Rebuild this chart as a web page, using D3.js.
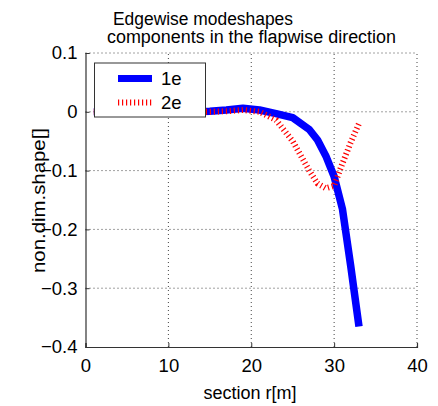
<!DOCTYPE html>
<html><head><meta charset="utf-8">
<script src="https://cdn.jsdelivr.net/npm/d3@7"></script>
<style>body{margin:0;background:#fff}svg{display:block}text{font-family:Arial,"Liberation Sans",sans-serif}</style>
</head><body>
<script>
const sections = [1,3,5,7,9,11,13,15,17,19,21,23,25,27,28,29,30,31,32,33];
const mode1e = [0,0,0,0,0,0,0,0.001,0.003,0.006,0.003,-0.003,-0.01,-0.03,-0.048,-0.075,-0.11,-0.165,-0.262,-0.365];
const mode2e = [0,0,0,0,0,0,0,0,0.001,0.003,0.0,-0.014,-0.05,-0.1,-0.122,-0.13,-0.126,-0.088,-0.052,-0.02];
const xTicks = [0,10,20,30,40];
const yTicks = [0.1,0,-0.1,-0.2,-0.3,-0.4];
const seriesNames = ["1e","2e"];

const W=438,H=406;
const FONT="Arial,'Liberation Sans',sans-serif";
const svg=d3.select("body").append("svg").attr("width",W).attr("height",H);
const x=d3.scaleLinear().domain([0,40]).range([85.5,417]);
const y=d3.scaleLinear().domain([-0.4,0.1]).range([347,53]);

// grid
const g=svg.append("g");
g.selectAll(".gx").data(xTicks.slice(1)).join("line")
 .attr("x1",d=>x(d)).attr("x2",d=>x(d)).attr("y1",y(-0.4)).attr("y2",y(0.1))
 .attr("stroke","#444").attr("stroke-width",1).attr("stroke-dasharray","1,3");
g.selectAll(".gy").data(yTicks.slice(0,-1)).join("line")
 .attr("x1",x(0)).attr("x2",x(40)).attr("y1",d=>y(d)).attr("y2",d=>y(d))
 .attr("stroke","#444").attr("stroke-width",1).attr("stroke-dasharray","1,3");

// axes
const xa=svg.append("g").attr("transform",`translate(0,${y(-0.4)})`)
 .call(d3.axisBottom(x).tickValues(xTicks).tickSize(-4).tickFormat(d3.format("d")));
const ya=svg.append("g").attr("transform",`translate(${x(0)},0)`)
 .call(d3.axisLeft(y).tickValues(yTicks).tickSize(-4).tickPadding(8).tickFormat(d=>d===0?"0":d3.format(".1f")(d)));
[xa,ya].forEach(a=>{a.select(".domain").attr("stroke","#333").attr("stroke-width",1.2);
 a.selectAll(".tick line").attr("stroke","#333");
 a.selectAll("text").attr("font-size",18.5).attr("fill","#000").attr("font-family",FONT);});
xa.selectAll("text").attr("y",25).attr("dy",0);

// lines
const line=d3.line().x((d,i)=>x(sections[i])).y(d=>y(d));
svg.append("path").datum(mode1e).attr("d",line).attr("fill","none")
 .attr("stroke","#0000ff").attr("stroke-width",7.5).attr("stroke-linejoin","round");
svg.append("path").datum(mode2e).attr("d",line).attr("fill","none")
 .attr("stroke","#ff0000").attr("stroke-width",6).attr("stroke-dasharray","1.2,2.8");

// legend
const lg=svg.append("g");
lg.append("rect").attr("x",94.5).attr("y",63).attr("width",111).attr("height",54)
 .attr("fill","#fff").attr("stroke","#333").attr("stroke-width",1);
lg.append("line").attr("x1",118).attr("x2",152).attr("y1",78.5).attr("y2",78.5).attr("stroke","#0000ff").attr("stroke-width",7);
lg.append("line").attr("x1",118).attr("x2",152).attr("y1",102.5).attr("y2",102.5).attr("stroke","#ff0000").attr("stroke-width",6).attr("stroke-dasharray","1.2,2.8");
lg.selectAll("text").data(seriesNames).join("text").attr("x",161).attr("y",(d,i)=>85+i*24)
 .attr("font-size",18.5).text(d=>d);

// title
svg.append("text").attr("x",113).attr("y",24.5).attr("font-size",18)
 .attr("textLength",180).attr("lengthAdjust","spacingAndGlyphs").text("Edgewise modeshapes");
svg.append("text").attr("x",107).attr("y",43).attr("font-size",18)
 .attr("textLength",289).attr("lengthAdjust","spacingAndGlyphs").text("components in the flapwise direction");
// axis labels
svg.append("text").attr("x",250).attr("y",399).attr("text-anchor","middle").attr("font-size",18).text("section r[m]");
svg.append("text").attr("transform","translate(45,273) rotate(-90)").attr("font-size",18.5)
 .attr("textLength",145).attr("lengthAdjust","spacingAndGlyphs").text("non.dim.shape[]");
</script>
</body></html>
